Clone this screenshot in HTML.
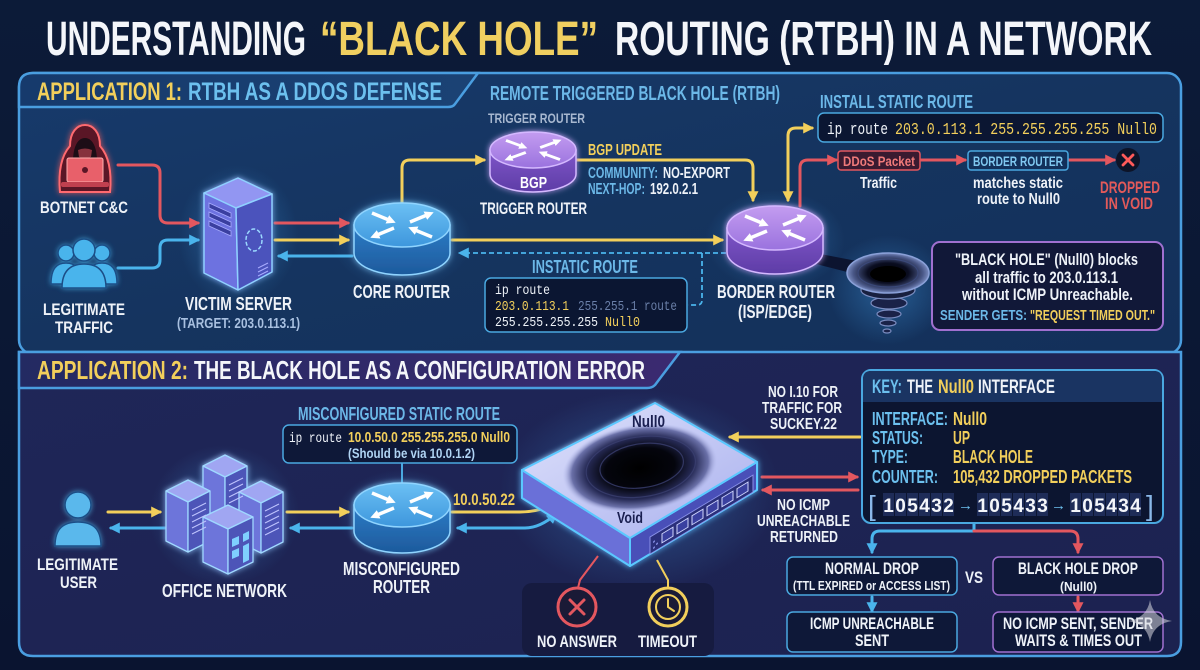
<!DOCTYPE html>
<html><head><meta charset="utf-8">
<style>
html,body{margin:0;padding:0;background:#0b1730;width:1200px;height:670px;overflow:hidden}
svg{display:block}
.t{font-family:"Liberation Sans Narrow","Liberation Sans",Arial,sans-serif;font-weight:700}
.m{font-family:"Liberation Mono","DejaVu Sans Mono",monospace}
</style></head><body>
<svg width="1200" height="670" viewBox="0 0 1200 670" xmlns="http://www.w3.org/2000/svg">
<defs>
 <linearGradient id="bg" x1="0" y1="0" x2="0" y2="1"><stop offset="0" stop-color="#0c1b38"/><stop offset="1" stop-color="#0a1430"/></linearGradient>
 <linearGradient id="p1" x1="0" y1="0" x2="1" y2="1"><stop offset="0" stop-color="#173a6b"/><stop offset="0.5" stop-color="#15345f"/><stop offset="1" stop-color="#13305a"/></linearGradient>
 <linearGradient id="p2" x1="0" y1="0" x2="1" y2="1"><stop offset="0" stop-color="#1f2658"/><stop offset="1" stop-color="#1c2250"/></linearGradient>
 <linearGradient id="h1" x1="0" y1="0" x2="1" y2="0"><stop offset="0" stop-color="#163a6c"/><stop offset="1" stop-color="#1b4274"/></linearGradient>
 <linearGradient id="h2" x1="0" y1="0" x2="1" y2="0"><stop offset="0" stop-color="#232a62"/><stop offset="1" stop-color="#3b2a70"/></linearGradient>
 <linearGradient id="btop" x1="0" y1="0" x2="0" y2="1"><stop offset="0" stop-color="#6cc0f4"/><stop offset="1" stop-color="#3d96dc"/></linearGradient>
 <linearGradient id="bside" x1="0" y1="0" x2="0" y2="1"><stop offset="0" stop-color="#2d7cc6"/><stop offset="1" stop-color="#1d5a9c"/></linearGradient>
 <linearGradient id="ptop" x1="0" y1="0" x2="0" y2="1"><stop offset="0" stop-color="#c39cf0"/><stop offset="1" stop-color="#9a72de"/></linearGradient>
 <linearGradient id="pside" x1="0" y1="0" x2="0" y2="1"><stop offset="0" stop-color="#7e56c8"/><stop offset="1" stop-color="#5e3ca6"/></linearGradient>
 <linearGradient id="dtop" x1="0" y1="0" x2="1" y2="1"><stop offset="0" stop-color="#dfe2fb"/><stop offset="1" stop-color="#a9b0ee"/></linearGradient>
 <radialGradient id="bh" cx="0.5" cy="0.5" r="0.5"><stop offset="0" stop-color="#000"/><stop offset="0.45" stop-color="#04050d"/><stop offset="0.7" stop-color="#262a55"/><stop offset="0.88" stop-color="#6a70a8"/><stop offset="1" stop-color="#b8bef0" stop-opacity="0"/></radialGradient>
 <radialGradient id="vt" cx="0.5" cy="0.5" r="0.5"><stop offset="0" stop-color="#000"/><stop offset="0.5" stop-color="#0a0d20"/><stop offset="0.85" stop-color="#4a5888"/><stop offset="1" stop-color="#7a8cc0"/></radialGradient>
 <radialGradient id="gl" cx="0.5" cy="0.5" r="0.5"><stop offset="0" stop-color="#4ab0ff" stop-opacity="0.35"/><stop offset="1" stop-color="#4ab0ff" stop-opacity="0"/></radialGradient>
 <filter id="glow" x="-30%" y="-30%" width="160%" height="160%"><feGaussianBlur stdDeviation="3" result="b"/><feMerge><feMergeNode in="b"/><feMergeNode in="SourceGraphic"/></feMerge></filter>
 <marker id="ay" viewBox="0 0 10 10" refX="8" refY="5" markerWidth="11" markerHeight="11" markerUnits="userSpaceOnUse" orient="auto-start-reverse"><path d="M0,0 L10,5 L0,10 Z" fill="#f2cf5b"/></marker>
 <marker id="ar" viewBox="0 0 10 10" refX="8" refY="5" markerWidth="11" markerHeight="11" markerUnits="userSpaceOnUse" orient="auto-start-reverse"><path d="M0,0 L10,5 L0,10 Z" fill="#e3575f"/></marker>
 <marker id="ab" viewBox="0 0 10 10" refX="8" refY="5" markerWidth="11" markerHeight="11" markerUnits="userSpaceOnUse" orient="auto-start-reverse"><path d="M0,0 L10,5 L0,10 Z" fill="#4ab4ec"/></marker>
 <marker id="aw" viewBox="0 0 10 10" refX="2" refY="5" markerWidth="2.6" markerHeight="2.6" orient="auto"><path d="M0,0 L10,5 L0,10 Z" fill="#ffffff"/></marker>
 <g id="rarr" stroke="#ffffff" stroke-width="3.5" marker-end="url(#aw)">
  <line x1="-30" y1="-12" x2="-13" y2="-5"/>
  <line x1="8" y1="-3" x2="25" y2="-10"/>
  <line x1="-8" y1="3" x2="-25" y2="10"/>
  <line x1="30" y1="12" x2="13" y2="5"/>
 </g>
</defs>

<rect width="1200" height="670" fill="url(#bg)"/>

<!-- TITLE -->
<text class="t" x="46" y="55" font-size="48" fill="#f4f6fa" textLength="260" lengthAdjust="spacingAndGlyphs">UNDERSTANDING</text>
<text class="t" x="320" y="55" font-size="48" fill="#f0cf60" textLength="278" lengthAdjust="spacingAndGlyphs">“BLACK HOLE”</text>
<text class="t" x="615" y="55" font-size="48" fill="#f4f6fa" textLength="537" lengthAdjust="spacingAndGlyphs">ROUTING (RTBH) IN A NETWORK</text>

<!-- PANEL 1 -->
<rect x="19" y="73" width="1162" height="281" rx="14" fill="url(#p1)" stroke="#4a9ee0" stroke-width="2.5"/>
<path d="M19,107 L19,87 Q19,73 33,73 L478,73 L455,104 Q453,107 448,107 Z" fill="url(#h1)" stroke="#4a9ee0" stroke-width="2.5"/>
<text class="t" x="37" y="100" font-size="25" fill="#f2cf5b" textLength="145" lengthAdjust="spacingAndGlyphs">APPLICATION 1:</text>
<text class="t" x="188" y="100" font-size="25" fill="#6cc0ee" textLength="254" lengthAdjust="spacingAndGlyphs">RTBH AS A DDOS DEFENSE</text>

<!-- PANEL 2 -->
<path d="M19,352 L1181,352 L1181,642 Q1181,656 1167,656 L33,656 Q19,656 19,642 Z" fill="url(#p2)" stroke="#4a9ee0" stroke-width="2.5"/>
<path d="M19,388 L19,352 L680,352 L655,385 Q652,388 647,388 Z" fill="url(#h2)" stroke="#4a9ee0" stroke-width="2.5"/>
<text class="t" x="37" y="379" font-size="26" fill="#f2cf5b" textLength="151" lengthAdjust="spacingAndGlyphs">APPLICATION 2:</text>
<text class="t" x="194" y="379" font-size="26" fill="#f4f6fa" textLength="451" lengthAdjust="spacingAndGlyphs">THE BLACK HOLE AS A CONFIGURATION ERROR</text>

<!-- ============ PANEL 1 CONTENT ============ -->
<!-- glows -->
<ellipse cx="238" cy="235" rx="60" ry="70" fill="url(#gl)"/>
<ellipse cx="402" cy="240" rx="70" ry="50" fill="url(#gl)"/>
<ellipse cx="775" cy="240" rx="70" ry="50" fill="url(#gl)"/>
<ellipse cx="888" cy="290" rx="60" ry="55" fill="url(#gl)"/>

<!-- connectors -->
<g fill="none" stroke-width="3" stroke-linecap="round">
 <path d="M118,165 L152,165 Q160,165 160,173 L160,215 Q160,223 168,223 L198,223" stroke="#e3575f" marker-end="url(#ar)"/>
 <path d="M118,268 L152,268 Q160,268 160,260 L160,248 Q160,240 168,240 L198,240" stroke="#4ab4ec" marker-end="url(#ab)"/>
 <path d="M275,223 L348,223" stroke="#e3575f" marker-end="url(#ar)"/>
 <path d="M275,240 L348,240" stroke="#f2cf5b" marker-end="url(#ay)"/>
 <path d="M352,256 L279,256" stroke="#4ab4ec" marker-end="url(#ab)"/>
 <path d="M402,204 L402,168 Q402,160 410,160 L484,160" stroke="#f2cf5b" marker-end="url(#ay)"/>
 <path d="M577,160 L745,160 Q753,160 753,168 L753,200" stroke="#f2cf5b" marker-end="url(#ay)"/>
 <path d="M452,240 L722,240" stroke="#f2cf5b" marker-end="url(#ay)"/>
 <path d="M788,200 L788,136 Q788,128 796,128 L812,128" stroke="#f2cf5b" marker-start="url(#ay)" marker-end="url(#ay)"/>
 <path d="M800,206 L800,168 Q800,160 808,160 L836,160" stroke="#e3575f" marker-end="url(#ar)"/>
 <path d="M920,160 L965,160" stroke="#e3575f" marker-end="url(#ar)"/>
 <path d="M1068,160 L1114,160" stroke="#e3575f" marker-end="url(#ar)"/>
</g>
<g fill="none" stroke="#4ab4ec" stroke-width="1.8" stroke-dasharray="5 3">
 <path d="M726,253 L460,253" marker-end="url(#ab)"/>
 <path d="M702,253 L702,300 Q702,305 697,305 L688,305"/>
</g>

<!-- botnet hacker -->
<g filter="url(#glow)">
 <path d="M60,192 C58,170 62,155 70,146 C70,132 77,125 85,125 C93,125 100,132 100,146 C108,155 112,170 110,192 Z" fill="#5a1826" stroke="#ff6a70" stroke-width="2"/>
 <path d="M73,162 C73,146 78,138 85,138 C92,138 97,146 97,162 Z" fill="#1c0a14"/>
 <path d="M78,150 Q85,147 92,150 L91,157 Q85,160 79,157 Z" fill="#e05560" opacity="0.55"/>
 <rect x="67" y="158" width="36" height="24" rx="2" fill="#e8606a" stroke="#ffb0b0" stroke-width="1"/>
 <circle cx="85" cy="170" r="3" fill="#5a1826"/>
 <rect x="61" y="182" width="48" height="5" rx="2" fill="#c04050"/>
</g>
<text class="t" x="40" y="213" font-size="17" fill="#eef2f8" textLength="88" lengthAdjust="spacingAndGlyphs">BOTNET C&amp;C</text>

<!-- legit traffic group -->
<g filter="url(#glow)" fill="#4ab4ec" stroke="#1a4e86" stroke-width="1.5">
 <circle cx="66" cy="253" r="8"/>
 <path d="M51,284 C51,268 57,263 66,263 C75,263 81,268 81,284 Z"/>
 <circle cx="102" cy="253" r="8"/>
 <path d="M87,284 C87,268 93,263 102,263 C111,263 117,268 117,284 Z"/>
 <circle cx="84" cy="250" r="11"/>
 <path d="M62,288 C62,271 70,264 84,264 C98,264 106,271 106,288 Z"/>
</g>
<text class="t" x="43" y="315" font-size="17" fill="#eef2f8" textLength="82" lengthAdjust="spacingAndGlyphs">LEGITIMATE</text>
<text class="t" x="55" y="333" font-size="17" fill="#eef2f8" textLength="58" lengthAdjust="spacingAndGlyphs">TRAFFIC</text>

<!-- victim server -->
<g filter="url(#glow)" stroke="#8fd0ff" stroke-width="1.5" stroke-linejoin="round">
 <polygon points="238,178 272,194 236,208 204,193" fill="#9296f2"/>
 <polygon points="204,193 236,208 238,290 204,273" fill="#6d72e0"/>
 <polygon points="236,208 272,194 272,272 238,290" fill="#4c52bc"/>
</g>
<g fill="#3a3fa0" stroke="#a8acff" stroke-width="0.8">
 <polygon points="209,203 231,213 231,218 209,208"/>
 <polygon points="209,212 231,222 231,227 209,217"/>
 <polygon points="209,221 231,231 231,236 209,226"/>
</g>
<ellipse cx="254" cy="240" rx="8" ry="11" fill="none" stroke="#9ad8ff" stroke-width="1.5" stroke-dasharray="4 2"/>
<g stroke="#a8acff" stroke-width="1"><line x1="258" y1="268" x2="268" y2="263"/><line x1="258" y1="272" x2="268" y2="267"/><line x1="258" y1="276" x2="268" y2="271"/></g>
<text class="t" x="185" y="310" font-size="18" fill="#eef2f8" textLength="107" lengthAdjust="spacingAndGlyphs">VICTIM SERVER</text>
<text class="t" x="177" y="328" font-size="15" fill="#a8c0e0" textLength="123" lengthAdjust="spacingAndGlyphs">(TARGET: 203.0.113.1)</text>

<!-- core router -->
<g filter="url(#glow)">
 <path d="M354,225 L354,253 A48,22 0 0 0 450,253 L450,225 Z" fill="url(#bside)" stroke="#8fd4ff" stroke-width="1.5"/>
 <ellipse cx="402" cy="225" rx="48" ry="22" fill="url(#btop)" stroke="#8fd4ff" stroke-width="1.5"/>
</g>
<use href="#rarr" transform="translate(402,225)"/>
<text class="t" x="353" y="298" font-size="18" fill="#eef2f8" textLength="97" lengthAdjust="spacingAndGlyphs">CORE ROUTER</text>

<!-- RTBH title + trigger router -->
<text class="t" x="490" y="100" font-size="20" fill="#6cb8e8" textLength="290" lengthAdjust="spacingAndGlyphs">REMOTE TRIGGERED BLACK HOLE (RTBH)</text>
<text class="t" x="488" y="123" font-size="14" fill="#a8b8d0" textLength="97" lengthAdjust="spacingAndGlyphs">TRIGGER ROUTER</text>
<g filter="url(#glow)">
 <path d="M490,150 L490,174 A43,18 0 0 0 576,174 L576,150 Z" fill="url(#pside)" stroke="#d4b8ff" stroke-width="1.5"/>
 <ellipse cx="533" cy="150" rx="43" ry="18" fill="url(#ptop)" stroke="#d4b8ff" stroke-width="1.5"/>
</g>
<use href="#rarr" transform="translate(533,150) scale(0.9,0.8)"/>
<text class="t" x="520" y="188" font-size="16" fill="#ffffff" textLength="27" lengthAdjust="spacingAndGlyphs">BGP</text>
<text class="t" x="480" y="214" font-size="17" fill="#eef2f8" textLength="107" lengthAdjust="spacingAndGlyphs">TRIGGER ROUTER</text>

<text class="t" x="588" y="155" font-size="16" fill="#f2cf5b" textLength="74" lengthAdjust="spacingAndGlyphs">BGP UPDATE</text>
<text class="t" x="588" y="178" font-size="16" fill="#6cb8e8" textLength="70" lengthAdjust="spacingAndGlyphs">COMMUNITY:</text>
<text class="t" x="663" y="178" font-size="16" fill="#eef2f8" textLength="67" lengthAdjust="spacingAndGlyphs">NO-EXPORT</text>
<text class="t" x="588" y="194" font-size="16" fill="#6cb8e8" textLength="57" lengthAdjust="spacingAndGlyphs">NEXT-HOP:</text>
<text class="t" x="650" y="194" font-size="16" fill="#eef2f8" textLength="48" lengthAdjust="spacingAndGlyphs">192.0.2.1</text>

<!-- instatic route -->
<text class="t" x="532" y="273" font-size="18" fill="#6cb8e8" textLength="106" lengthAdjust="spacingAndGlyphs">INSTATIC ROUTE</text>
<rect x="485" y="278" width="202" height="54" rx="6" fill="#0b1632" stroke="#4aa8e0" stroke-width="1.5"/>
<text class="m" x="495" y="294" font-size="14" fill="#eef2f8" textLength="55" lengthAdjust="spacingAndGlyphs">ip route</text>
<text class="m" x="495" y="310" font-size="14" fill="#f2cf5b" textLength="74" lengthAdjust="spacingAndGlyphs">203.0.113.1</text>
<text class="m" x="578" y="310" font-size="14" fill="#6a7fa8" textLength="99" lengthAdjust="spacingAndGlyphs">255.255.1 route</text>
<text class="m" x="495" y="326" font-size="14" fill="#eef2f8" textLength="103" lengthAdjust="spacingAndGlyphs">255.255.255.255</text>
<text class="m" x="605" y="326" font-size="14" fill="#f2cf5b" textLength="35" lengthAdjust="spacingAndGlyphs">Null0</text>

<!-- vortex -->
<polygon points="810,252 862,262 855,274 816,264" fill="#0c1430"/>
<g stroke="#7a8cc0" stroke-width="1.2">
 <ellipse cx="887" cy="331" rx="4" ry="2" fill="#1a2248"/>
 <ellipse cx="888" cy="323" rx="8" ry="3" fill="#1a2248"/>
 <ellipse cx="889" cy="314" rx="12" ry="4" fill="#1a2248"/>
 <ellipse cx="889" cy="303" rx="18" ry="6" fill="#1a2248"/>
 <ellipse cx="888" cy="290" rx="27" ry="9" fill="#18203f"/>
</g>
<ellipse cx="888" cy="273" rx="41" ry="20" fill="url(#vt)" stroke="#8aa0d8" stroke-width="1.5"/>
<ellipse cx="888" cy="273" rx="30" ry="14" fill="none" stroke="#3a4878" stroke-width="1.2"/>
<ellipse cx="888" cy="274" rx="18" ry="8" fill="#000"/>

<!-- border router -->
<g filter="url(#glow)">
 <path d="M727,228 L727,252 A48,22 0 0 0 823,252 L823,228 Z" fill="url(#pside)" stroke="#d4b8ff" stroke-width="1.5"/>
 <ellipse cx="775" cy="228" rx="48" ry="22" fill="url(#ptop)" stroke="#d4b8ff" stroke-width="1.5"/>
</g>
<use href="#rarr" transform="translate(775,228)"/>
<text class="t" x="717" y="298" font-size="18" fill="#eef2f8" textLength="118" lengthAdjust="spacingAndGlyphs">BORDER ROUTER</text>
<text class="t" x="738" y="318" font-size="18" fill="#eef2f8" textLength="74" lengthAdjust="spacingAndGlyphs">(ISP/EDGE)</text>

<!-- install static route -->
<text class="t" x="820" y="108" font-size="18" fill="#6cb8e8" textLength="153" lengthAdjust="spacingAndGlyphs">INSTALL STATIC ROUTE</text>
<rect x="818" y="113" width="345" height="29" rx="6" fill="#0b1632" stroke="#4aa8e0" stroke-width="1.5"/>
<text class="m" x="827" y="134" font-size="17" fill="#eef2f8" textLength="61" lengthAdjust="spacingAndGlyphs">ip route</text>
<text class="m" x="895" y="134" font-size="17" fill="#f2cf5b" textLength="262" lengthAdjust="spacingAndGlyphs">203.0.113.1 255.255.255.255 Null0</text>

<rect x="838" y="151" width="82" height="19" rx="3" fill="#3a1a30" stroke="#e3575f" stroke-width="1.5"/>
<text class="t" x="843" y="166" font-size="14" fill="#f07a7a" textLength="72" lengthAdjust="spacingAndGlyphs">DDoS Packet</text>
<text class="t" x="860" y="188" font-size="16" fill="#eef2f8" textLength="37" lengthAdjust="spacingAndGlyphs">Traffic</text>
<rect x="968" y="151" width="100" height="19" rx="3" fill="#12305a" stroke="#4aa8e0" stroke-width="1.5"/>
<text class="t" x="973" y="166" font-size="14" fill="#80c8f0" textLength="90" lengthAdjust="spacingAndGlyphs">BORDER ROUTER</text>
<text class="t" x="973" y="188" font-size="16" fill="#eef2f8" textLength="90" lengthAdjust="spacingAndGlyphs">matches static</text>
<text class="t" x="977" y="204" font-size="16" fill="#eef2f8" textLength="83" lengthAdjust="spacingAndGlyphs">route to Null0</text>
<circle cx="1128" cy="160" r="12" fill="#0d1428"/>
<g stroke="#ff5a5a" stroke-width="2.8" stroke-linecap="round"><line x1="1123" y1="155" x2="1133" y2="165"/><line x1="1133" y1="155" x2="1123" y2="165"/></g>
<text class="t" x="1100" y="193" font-size="17" fill="#e35a5a" textLength="60" lengthAdjust="spacingAndGlyphs">DROPPED</text>
<text class="t" x="1105" y="209" font-size="17" fill="#e35a5a" textLength="48" lengthAdjust="spacingAndGlyphs">IN VOID</text>

<!-- callout -->
<rect x="932" y="242" width="231" height="88" rx="8" fill="#111838" stroke="#a070d0" stroke-width="2"/>
<text class="t" x="955" y="265" font-size="17" fill="#eef2f8" font-weight="400" textLength="183" lengthAdjust="spacingAndGlyphs">"BLACK HOLE" (Null0) blocks</text>
<text class="t" x="975" y="283" font-size="17" fill="#eef2f8" textLength="143" lengthAdjust="spacingAndGlyphs">all traffic to 203.0.113.1</text>
<text class="t" x="962" y="300" font-size="17" fill="#eef2f8" textLength="171" lengthAdjust="spacingAndGlyphs">without ICMP Unreachable.</text>
<text class="t" x="940" y="320" font-size="15" fill="#6cb8e8" textLength="87" lengthAdjust="spacingAndGlyphs">SENDER GETS:</text>
<text class="t" x="1030" y="320" font-size="15" fill="#f2cf5b" textLength="125" lengthAdjust="spacingAndGlyphs">"REQUEST TIMED OUT."</text>

<!-- ============ PANEL 2 CONTENT ============ -->
<ellipse cx="224" cy="515" rx="75" ry="70" fill="url(#gl)"/>
<ellipse cx="402" cy="515" rx="65" ry="45" fill="url(#gl)"/>
<ellipse cx="640" cy="490" rx="140" ry="100" fill="url(#gl)"/>

<!-- connectors -->
<g fill="none" stroke-width="3" stroke-linecap="round">
 <path d="M108,512 L160,512" stroke="#f2cf5b" marker-end="url(#ay)"/>
 <path d="M165,528 L111,528" stroke="#4ab4ec" marker-end="url(#ab)"/>
 <path d="M287,512 L348,512" stroke="#f2cf5b" marker-end="url(#ay)"/>
 <path d="M352,528 L291,528" stroke="#4ab4ec" marker-end="url(#ab)"/>
 <path d="M452,512 L520,512 Q545,512 562,498 L582,485" stroke="#f2cf5b" marker-end="url(#ay)"/>
 <path d="M458,528 L525,528 Q540,528 556,514" stroke="#4ab4ec" marker-start="url(#ab)" marker-end="url(#ab)"/>
 <path d="M860,437 L730,437" stroke="#f2cf5b" marker-end="url(#ay)"/>
 <path d="M762,477 L857,477" stroke="#e3575f" marker-end="url(#ar)"/>
 <path d="M858,490 L763,490" stroke="#e3575f" marker-end="url(#ar)"/>
 <path d="M974,523 L974,531 L880,531 Q872,531 872,539 L872,552" stroke="#4ab4ec" marker-end="url(#ab)"/>
 <path d="M974,531 L1070,531 Q1078,531 1078,539 L1078,552" stroke="#e3575f" marker-end="url(#ar)"/>
 <path d="M872,597 L872,611" stroke="#4ab4ec" marker-end="url(#ab)"/>
 <path d="M1078,597 L1078,611" stroke="#e3575f" marker-end="url(#ar)"/>
</g>
<line x1="402" y1="463" x2="402" y2="483" stroke="#4aa8e0" stroke-width="2"/>

<!-- legit user -->
<g filter="url(#glow)" fill="#5ab8ec" stroke="#1a4e86" stroke-width="1.5">
 <circle cx="78" cy="505" r="13"/>
 <path d="M55,546 C55,528 64,522 78,522 C92,522 101,528 101,546 Z"/>
</g>
<text class="t" x="37" y="570" font-size="17" fill="#eef2f8" textLength="81" lengthAdjust="spacingAndGlyphs">LEGITIMATE</text>
<text class="t" x="60" y="588" font-size="17" fill="#eef2f8" textLength="37" lengthAdjust="spacingAndGlyphs">USER</text>

<!-- office buildings -->
<g filter="url(#glow)" stroke="#9fd8ff" stroke-width="1.3" stroke-linejoin="round">
 <polygon points="225,455 247,466 225,477 203,466" fill="#a0a6f2"/>
 <polygon points="203,466 225,477 225,527 203,516" fill="#6d74da"/>
 <polygon points="225,477 247,466 247,516 225,527" fill="#4d55b8"/>
 <polygon points="188,480 210,491 188,502 166,491" fill="#a0a6f2"/>
 <polygon points="166,491 188,502 188,552 166,541" fill="#6d74da"/>
 <polygon points="188,502 210,491 210,541 188,552" fill="#4d55b8"/>
 <polygon points="261,481 283,492 261,503 239,492" fill="#a0a6f2"/>
 <polygon points="239,492 261,503 261,553 239,542" fill="#6d74da"/>
 <polygon points="261,503 283,492 283,542 261,553" fill="#4d55b8"/>
 <polygon points="228,505 253,517 228,529 203,517" fill="#a0a6f2"/>
 <polygon points="203,517 228,529 228,574 203,562" fill="#6d74da"/>
 <polygon points="228,529 253,517 253,562 228,574" fill="#4d55b8"/>
</g>
<g stroke="#c0c6ff" stroke-width="1">
 <line x1="192" y1="510" x2="206" y2="503"/><line x1="192" y1="516" x2="206" y2="509"/><line x1="192" y1="522" x2="206" y2="515"/><line x1="192" y1="528" x2="206" y2="521"/><line x1="192" y1="534" x2="206" y2="527"/>
 <line x1="229" y1="485" x2="243" y2="478"/><line x1="229" y1="491" x2="243" y2="484"/><line x1="229" y1="497" x2="243" y2="490"/><line x1="229" y1="503" x2="243" y2="496"/>
 <line x1="265" y1="511" x2="279" y2="504"/><line x1="265" y1="517" x2="279" y2="510"/><line x1="265" y1="523" x2="279" y2="516"/><line x1="265" y1="529" x2="279" y2="522"/><line x1="265" y1="535" x2="279" y2="528"/>
</g>
<g fill="#7fd0ff"><polygon points="232,539 239,536 239,544 232,547"/><polygon points="243,534 249,531 249,539 243,542"/><polygon points="232,551 239,548 239,556 232,559"/><polygon points="243,546 249,543 249,560 243,563"/></g>
<text class="t" x="162" y="597" font-size="18" fill="#eef2f8" textLength="125" lengthAdjust="spacingAndGlyphs">OFFICE NETWORK</text>

<!-- misconfigured router -->
<text class="t" x="298" y="420" font-size="18" fill="#6cb8e8" textLength="202" lengthAdjust="spacingAndGlyphs">MISCONFIGURED STATIC ROUTE</text>
<rect x="283" y="425" width="234" height="38" rx="6" fill="#0e1838" stroke="#4aa8e0" stroke-width="1.5"/>
<text class="m" x="289" y="442" font-size="14" fill="#eef2f8" textLength="53" lengthAdjust="spacingAndGlyphs">ip route</text>
<text class="t" x="348" y="442" font-size="15" fill="#f2cf5b" textLength="162" lengthAdjust="spacingAndGlyphs">10.0.50.0 255.255.255.0 Null0</text>
<text class="t" x="348" y="458" font-size="14" fill="#b0d4f4" textLength="127" lengthAdjust="spacingAndGlyphs">(Should be via 10.0.1.2)</text>
<g filter="url(#glow)">
 <path d="M354,505 L354,531 A48,22 0 0 0 450,531 L450,505 Z" fill="url(#bside)" stroke="#8fd4ff" stroke-width="1.5"/>
 <ellipse cx="402" cy="505" rx="48" ry="22" fill="url(#btop)" stroke="#8fd4ff" stroke-width="1.5"/>
</g>
<use href="#rarr" transform="translate(402,505)"/>
<text class="t" x="343" y="575" font-size="18" fill="#eef2f8" textLength="117" lengthAdjust="spacingAndGlyphs">MISCONFIGURED</text>
<text class="t" x="373" y="593" font-size="18" fill="#eef2f8" textLength="57" lengthAdjust="spacingAndGlyphs">ROUTER</text>
<text class="t" x="453" y="505" font-size="17" fill="#f2cf5b" textLength="62" lengthAdjust="spacingAndGlyphs">10.0.50.22</text>

<!-- bottom dark box + status circles -->
<rect x="522" y="583" width="192" height="73" rx="10" fill="#161b40"/>
<g fill="none" stroke-width="2"><path d="M598,556 L580,580 L578,588" stroke="#e3575f"/><path d="M657,560 L668,580 L668,588" stroke="#f2cf5b"/></g>

<!-- Null0 device -->
<g filter="url(#glow)" stroke="#5ac8ff" stroke-width="2" stroke-linejoin="round">
 <polygon points="522,470 630,538 630,566 522,498" fill="#6a70d8"/>
 <polygon points="630,538 757,462 757,490 630,566" fill="#4a50b8"/>
 <polygon points="522,470 655,403 757,462 630,538" fill="url(#dtop)"/>
</g>
<ellipse cx="640" cy="468" rx="78" ry="44" fill="url(#bh)" transform="rotate(-8 640 468)"/>
<g fill="none" stroke="#3a3f70" stroke-width="1.2" opacity="0.8">
 <ellipse cx="641" cy="467" rx="55" ry="30" transform="rotate(-8 640 468)"/>
 <ellipse cx="642" cy="466" rx="42" ry="22" transform="rotate(-8 640 468)"/>
</g>
<g transform="translate(640,552) skewY(-31)">
 <rect x="10" y="-9" width="103" height="17" fill="#2a2f7a" stroke="#8a92e8" stroke-width="1"/>
 <g fill="#3a40a0" stroke="#d0d6ff" stroke-width="1">
  <rect x="22" y="-5" width="11" height="9"/><rect x="37" y="-5" width="11" height="9"/><rect x="52" y="-5" width="11" height="9"/><rect x="67" y="-5" width="11" height="9"/><rect x="82" y="-5" width="11" height="9"/><rect x="97" y="-5" width="11" height="9"/>
 </g>
 <g fill="#8a92e8"><circle cx="14" cy="-2" r="1"/><circle cx="17" cy="2" r="1"/><circle cx="14" cy="4" r="1"/></g>
</g>
<text class="t" x="632" y="427" font-size="17" fill="#1a1f50" textLength="33" lengthAdjust="spacingAndGlyphs">Null0</text>
<text class="t" x="617" y="523" font-size="16" fill="#1a1f50" textLength="26" lengthAdjust="spacingAndGlyphs">Void</text>

<circle cx="577" cy="607" r="19" fill="#1a1a36" stroke="#e3575f" stroke-width="3"/>
<g stroke="#e3575f" stroke-width="3" stroke-linecap="round"><line x1="570" y1="600" x2="584" y2="614"/><line x1="584" y1="600" x2="570" y2="614"/></g>
<circle cx="668" cy="607" r="19" fill="#1a1a36" stroke="#f2cf5b" stroke-width="3"/>
<circle cx="668" cy="607" r="12" fill="none" stroke="#f2cf5b" stroke-width="2"/>
<path d="M668,599 L668,607 L674,611" fill="none" stroke="#f2cf5b" stroke-width="2" stroke-linecap="round"/>
<text class="t" x="537" y="647" font-size="17" fill="#eef2f8" textLength="80" lengthAdjust="spacingAndGlyphs">NO ANSWER</text>
<text class="t" x="638" y="647" font-size="17" fill="#eef2f8" textLength="59" lengthAdjust="spacingAndGlyphs">TIMEOUT</text>

<!-- right side labels -->
<text class="t" x="768" y="397" font-size="16" fill="#eef2f8" textLength="70" lengthAdjust="spacingAndGlyphs">NO I.10 FOR</text>
<text class="t" x="762" y="413" font-size="16" fill="#eef2f8" textLength="80" lengthAdjust="spacingAndGlyphs">TRAFFIC FOR</text>
<text class="t" x="770" y="429" font-size="16" fill="#eef2f8" textLength="67" lengthAdjust="spacingAndGlyphs">SUCKEY.22</text>
<text class="t" x="777" y="510" font-size="16" fill="#eef2f8" textLength="53" lengthAdjust="spacingAndGlyphs">NO ICMP</text>
<text class="t" x="757" y="526" font-size="16" fill="#eef2f8" textLength="93" lengthAdjust="spacingAndGlyphs">UNREACHABLE</text>
<text class="t" x="770" y="542" font-size="16" fill="#eef2f8" textLength="68" lengthAdjust="spacingAndGlyphs">RETURNED</text>

<!-- key box -->
<rect x="862" y="370" width="301" height="153" rx="9" fill="#0c1530" stroke="#4aa8e0" stroke-width="2"/>
<path d="M863,402 L863,379 Q863,371 871,371 L1154,371 Q1162,371 1162,379 L1162,402 Z" fill="#1a3462"/>
<text class="t" x="872" y="393" font-size="19" fill="#6cc0ee" textLength="30" lengthAdjust="spacingAndGlyphs">KEY:</text>
<text class="t" x="907" y="393" font-size="19" fill="#eef2f8" textLength="26" lengthAdjust="spacingAndGlyphs">THE</text>
<text class="t" x="938" y="393" font-size="19" fill="#f2cf5b" textLength="36" lengthAdjust="spacingAndGlyphs">Null0</text>
<text class="t" x="978" y="393" font-size="19" fill="#eef2f8" textLength="77" lengthAdjust="spacingAndGlyphs">INTERFACE</text>
<g class="t" font-size="18">
 <text x="872" y="425" fill="#6cc0ee" textLength="76" lengthAdjust="spacingAndGlyphs">INTERFACE:</text>
 <text x="953" y="425" fill="#f2cf5b" textLength="34" lengthAdjust="spacingAndGlyphs">Null0</text>
 <text x="872" y="444" fill="#6cc0ee" textLength="51" lengthAdjust="spacingAndGlyphs">STATUS:</text>
 <text x="953" y="444" fill="#f2cf5b" textLength="17" lengthAdjust="spacingAndGlyphs">UP</text>
 <text x="872" y="463" fill="#6cc0ee" textLength="36" lengthAdjust="spacingAndGlyphs">TYPE:</text>
 <text x="953" y="463" fill="#f2cf5b" textLength="80" lengthAdjust="spacingAndGlyphs">BLACK HOLE</text>
 <text x="872" y="483" fill="#6cc0ee" textLength="66" lengthAdjust="spacingAndGlyphs">COUNTER:</text>
 <text x="953" y="483" fill="#f2cf5b" textLength="179" lengthAdjust="spacingAndGlyphs">105,432 DROPPED PACKETS</text>
</g>
<text x="868" y="515" font-family="Liberation Sans, sans-serif" font-size="28" fill="#8ab8e8">[</text>
<text x="1146" y="515" font-family="Liberation Sans, sans-serif" font-size="28" fill="#8ab8e8">]</text>
<g fill="#1e2c58">
 <rect x="883" y="493" width="11" height="23"/><rect x="895" y="493" width="11" height="23"/><rect x="907" y="493" width="11" height="23"/><rect x="919" y="493" width="11" height="23"/><rect x="931" y="493" width="11" height="23"/><rect x="943" y="493" width="11" height="23"/>
 <rect x="977" y="493" width="11" height="23"/><rect x="989" y="493" width="11" height="23"/><rect x="1001" y="493" width="11" height="23"/><rect x="1013" y="493" width="11" height="23"/><rect x="1025" y="493" width="11" height="23"/><rect x="1037" y="493" width="11" height="23"/>
 <rect x="1070" y="493" width="11" height="23"/><rect x="1082" y="493" width="11" height="23"/><rect x="1094" y="493" width="11" height="23"/><rect x="1106" y="493" width="11" height="23"/><rect x="1118" y="493" width="11" height="23"/><rect x="1130" y="493" width="11" height="23"/>
</g>
<g class="t" font-size="19" fill="#f4f6fa" text-anchor="middle">
 <text x="888.5 900.5 912.5 924.5 936.5 948.5" y="512">105432</text>
 <text x="982.5 994.5 1006.5 1018.5 1030.5 1042.5" y="512">105433</text>
 <text x="1075.5 1087.5 1099.5 1111.5 1123.5 1135.5" y="512">105434</text>
</g>
<text x="958" y="510" font-family="Liberation Sans, sans-serif" font-size="15" fill="#6cc0ee">→</text>
<text x="1051" y="510" font-family="Liberation Sans, sans-serif" font-size="15" fill="#6cc0ee">→</text>

<!-- drop comparison -->
<rect x="787" y="557" width="170" height="38" rx="6" fill="#0e1838" stroke="#4aa8e0" stroke-width="1.5"/>
<text class="t" x="825" y="574" font-size="17" fill="#eef2f8" textLength="94" lengthAdjust="spacingAndGlyphs">NORMAL DROP</text>
<text class="t" x="793" y="590" font-size="13" fill="#eef2f8" textLength="157" lengthAdjust="spacingAndGlyphs">(TTL EXPIRED or ACCESS LIST)</text>
<text class="t" x="965" y="583" font-size="17" fill="#eef2f8" textLength="18" lengthAdjust="spacingAndGlyphs">VS</text>
<rect x="993" y="557" width="170" height="38" rx="6" fill="#0e1838" stroke="#a070d0" stroke-width="1.5"/>
<text class="t" x="1018" y="574" font-size="17" fill="#eef2f8" textLength="120" lengthAdjust="spacingAndGlyphs">BLACK HOLE DROP</text>
<text class="t" x="1060" y="591" font-size="13" fill="#eef2f8" textLength="37" lengthAdjust="spacingAndGlyphs">(Null0)</text>
<rect x="787" y="612" width="170" height="40" rx="6" fill="#0e1838" stroke="#4aa8e0" stroke-width="1.5"/>
<text class="t" x="810" y="629" font-size="17" fill="#eef2f8" textLength="124" lengthAdjust="spacingAndGlyphs">ICMP UNREACHABLE</text>
<text class="t" x="855" y="646" font-size="17" fill="#eef2f8" textLength="34" lengthAdjust="spacingAndGlyphs">SENT</text>
<rect x="993" y="612" width="170" height="40" rx="6" fill="#0e1838" stroke="#a070d0" stroke-width="1.5"/>
<text class="t" x="1003" y="629" font-size="17" fill="#eef2f8" textLength="150" lengthAdjust="spacingAndGlyphs">NO ICMP SENT, SENDER</text>
<text class="t" x="1015" y="646" font-size="17" fill="#eef2f8" textLength="127" lengthAdjust="spacingAndGlyphs">WAITS &amp; TIMES OUT</text>

<!-- sparkle watermark -->
<path d="M1150,600 Q1153,618 1172,621 Q1153,624 1150,642 Q1147,624 1128,621 Q1147,618 1150,600 Z" fill="#d8d8e0" opacity="0.55"/>
</svg>
</body></html>
